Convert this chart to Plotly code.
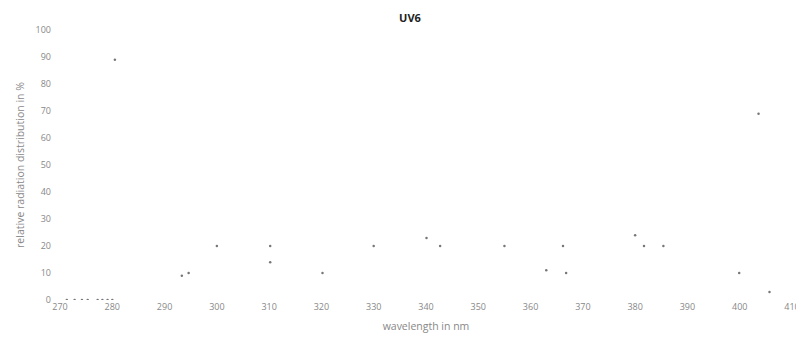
import plotly.graph_objects as go

title_text = "UV6"
x_title = "wavelength in nm"
y_title = "relative radiation distribution in %"

wavelength = [271.3, 272.8, 274.2, 275.3, 277.2, 278.1, 279.1, 280.0, 280.5,
              293.3, 294.6, 300.0, 310.2, 310.2, 320.2, 330.0, 340.1, 342.7,
              355.0, 363.0, 366.2, 366.8, 380.0, 381.7, 385.4, 399.9, 403.6, 405.7]
radiation = [0, 0, 0, 0, 0, 0, 0, 0, 89,
             9, 10, 20, 20, 14, 10, 20, 23, 20,
             20, 11, 20, 10, 24, 20, 20, 10, 69, 3]

x_ticks = list(range(270, 420, 10))
y_ticks = list(range(0, 110, 10))

fig = go.Figure()
fig.add_trace(go.Scatter(
    x=wavelength, y=radiation, mode="markers",
    marker=dict(size=2.5, color="#777777"),
    showlegend=False,
))

fig.update_layout(
    width=804, height=343,
    margin=dict(l=50, r=12, t=22, b=51),
    paper_bgcolor="white", plot_bgcolor="white",
    font=dict(family="Open Sans", size=9, color="#888888"),
    title=dict(text="<b>" + title_text + "</b>", x=0.5, xanchor="center",
               y=1 - 10 / 343, yanchor="middle", yref="container",
               font=dict(size=11, color="#222222")),
    xaxis=dict(range=[270, 410], tickvals=x_ticks, showgrid=False,
               zeroline=False, showline=False, ticks="",
               title=dict(text=x_title, standoff=10, font=dict(size=10.5, color="#888888"))),
    yaxis=dict(range=[0, 100], tickvals=y_ticks, showgrid=False,
               zeroline=False, showline=False, ticks="", ticklabelstandoff=8,
               title=dict(text=y_title, standoff=8, font=dict(size=10.5, color="#888888"))),
)

fig.write_html("out.html")
